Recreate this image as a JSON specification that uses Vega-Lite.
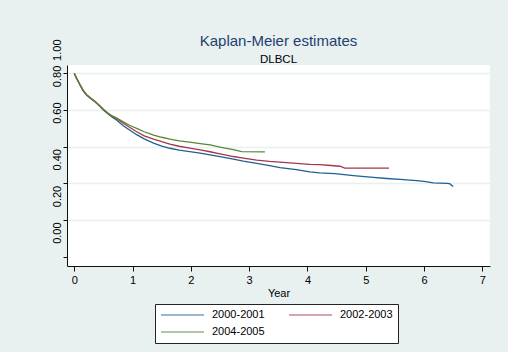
{
  "$schema": "https://vega.github.io/schema/vega-lite/v6.json",
  "width": 423,
  "height": 201,
  "autosize": {"type": "none"},
  "padding": {"left": 67, "top": 65, "right": 18, "bottom": 86},
  "background": "#E8F0F0",
  "title": {
    "text": "Kaplan-Meier estimates",
    "subtitle": "DLBCL",
    "anchor": "middle",
    "frame": "group",
    "font": "Liberation Sans",
    "fontSize": 15,
    "fontWeight": "normal",
    "color": "#1e3f6e",
    "subtitleFont": "Liberation Sans",
    "subtitleFontSize": 11.5,
    "subtitleColor": "black",
    "offset": -27,
    "subtitlePadding": 5.5
  },
  "data": {
    "values": [
      {"t": 0, "s": 0.80, "g": "2000-2001"},
      {"t": 0.04, "s": 0.773, "g": "2000-2001"},
      {"t": 0.10, "s": 0.736, "g": "2000-2001"},
      {"t": 0.155, "s": 0.704, "g": "2000-2001"},
      {"t": 0.21, "s": 0.682, "g": "2000-2001"},
      {"t": 0.28, "s": 0.664, "g": "2000-2001"},
      {"t": 0.355, "s": 0.645, "g": "2000-2001"},
      {"t": 0.43, "s": 0.623, "g": "2000-2001"},
      {"t": 0.50, "s": 0.600, "g": "2000-2001"},
      {"t": 0.57, "s": 0.581, "g": "2000-2001"},
      {"t": 0.64, "s": 0.564, "g": "2000-2001"},
      {"t": 0.73, "s": 0.545, "g": "2000-2001"},
      {"t": 0.84, "s": 0.515, "g": "2000-2001"},
      {"t": 0.955, "s": 0.490, "g": "2000-2001"},
      {"t": 1.07, "s": 0.466, "g": "2000-2001"},
      {"t": 1.2, "s": 0.443, "g": "2000-2001"},
      {"t": 1.36, "s": 0.420, "g": "2000-2001"},
      {"t": 1.5, "s": 0.404, "g": "2000-2001"},
      {"t": 1.64, "s": 0.392, "g": "2000-2001"},
      {"t": 1.8, "s": 0.382, "g": "2000-2001"},
      {"t": 1.98, "s": 0.374, "g": "2000-2001"},
      {"t": 2.16, "s": 0.365, "g": "2000-2001"},
      {"t": 2.33, "s": 0.356, "g": "2000-2001"},
      {"t": 2.5, "s": 0.346, "g": "2000-2001"},
      {"t": 2.73, "s": 0.333, "g": "2000-2001"},
      {"t": 2.9, "s": 0.322, "g": "2000-2001"},
      {"t": 3.13, "s": 0.309, "g": "2000-2001"},
      {"t": 3.35, "s": 0.297, "g": "2000-2001"},
      {"t": 3.53, "s": 0.286, "g": "2000-2001"},
      {"t": 3.81, "s": 0.275, "g": "2000-2001"},
      {"t": 4.04, "s": 0.263, "g": "2000-2001"},
      {"t": 4.21, "s": 0.258, "g": "2000-2001"},
      {"t": 4.47, "s": 0.254, "g": "2000-2001"},
      {"t": 4.79, "s": 0.243, "g": "2000-2001"},
      {"t": 5.13, "s": 0.233, "g": "2000-2001"},
      {"t": 5.36, "s": 0.227, "g": "2000-2001"},
      {"t": 5.59, "s": 0.222, "g": "2000-2001"},
      {"t": 5.87, "s": 0.215, "g": "2000-2001"},
      {"t": 6.0, "s": 0.212, "g": "2000-2001"},
      {"t": 6.16, "s": 0.203, "g": "2000-2001"},
      {"t": 6.39, "s": 0.200, "g": "2000-2001"},
      {"t": 6.44, "s": 0.199, "g": "2000-2001"},
      {"t": 6.50, "s": 0.183, "g": "2000-2001"},

      {"t": 0, "s": 0.80, "g": "2002-2003"},
      {"t": 0.04, "s": 0.773, "g": "2002-2003"},
      {"t": 0.10, "s": 0.737, "g": "2002-2003"},
      {"t": 0.155, "s": 0.706, "g": "2002-2003"},
      {"t": 0.21, "s": 0.684, "g": "2002-2003"},
      {"t": 0.28, "s": 0.666, "g": "2002-2003"},
      {"t": 0.355, "s": 0.648, "g": "2002-2003"},
      {"t": 0.43, "s": 0.627, "g": "2002-2003"},
      {"t": 0.50, "s": 0.605, "g": "2002-2003"},
      {"t": 0.57, "s": 0.586, "g": "2002-2003"},
      {"t": 0.64, "s": 0.568, "g": "2002-2003"},
      {"t": 0.73, "s": 0.553, "g": "2002-2003"},
      {"t": 0.84, "s": 0.528, "g": "2002-2003"},
      {"t": 0.955, "s": 0.505, "g": "2002-2003"},
      {"t": 1.07, "s": 0.482, "g": "2002-2003"},
      {"t": 1.2, "s": 0.460, "g": "2002-2003"},
      {"t": 1.36, "s": 0.442, "g": "2002-2003"},
      {"t": 1.5, "s": 0.428, "g": "2002-2003"},
      {"t": 1.64, "s": 0.415, "g": "2002-2003"},
      {"t": 1.8, "s": 0.403, "g": "2002-2003"},
      {"t": 1.98, "s": 0.393, "g": "2002-2003"},
      {"t": 2.16, "s": 0.383, "g": "2002-2003"},
      {"t": 2.33, "s": 0.373, "g": "2002-2003"},
      {"t": 2.5, "s": 0.362, "g": "2002-2003"},
      {"t": 2.73, "s": 0.347, "g": "2002-2003"},
      {"t": 2.9, "s": 0.338, "g": "2002-2003"},
      {"t": 3.13, "s": 0.327, "g": "2002-2003"},
      {"t": 3.35, "s": 0.320, "g": "2002-2003"},
      {"t": 3.53, "s": 0.316, "g": "2002-2003"},
      {"t": 3.81, "s": 0.310, "g": "2002-2003"},
      {"t": 4.04, "s": 0.304, "g": "2002-2003"},
      {"t": 4.21, "s": 0.303, "g": "2002-2003"},
      {"t": 4.4, "s": 0.298, "g": "2002-2003"},
      {"t": 4.56, "s": 0.294, "g": "2002-2003"},
      {"t": 4.64, "s": 0.284, "g": "2002-2003"},
      {"t": 5.40, "s": 0.284, "g": "2002-2003"},

      {"t": 0, "s": 0.80, "g": "2004-2005"},
      {"t": 0.04, "s": 0.774, "g": "2004-2005"},
      {"t": 0.10, "s": 0.738, "g": "2004-2005"},
      {"t": 0.155, "s": 0.707, "g": "2004-2005"},
      {"t": 0.21, "s": 0.684, "g": "2004-2005"},
      {"t": 0.28, "s": 0.665, "g": "2004-2005"},
      {"t": 0.355, "s": 0.646, "g": "2004-2005"},
      {"t": 0.43, "s": 0.624, "g": "2004-2005"},
      {"t": 0.50, "s": 0.602, "g": "2004-2005"},
      {"t": 0.57, "s": 0.584, "g": "2004-2005"},
      {"t": 0.64, "s": 0.570, "g": "2004-2005"},
      {"t": 0.73, "s": 0.556, "g": "2004-2005"},
      {"t": 0.84, "s": 0.536, "g": "2004-2005"},
      {"t": 0.955, "s": 0.516, "g": "2004-2005"},
      {"t": 1.07, "s": 0.500, "g": "2004-2005"},
      {"t": 1.2, "s": 0.482, "g": "2004-2005"},
      {"t": 1.36, "s": 0.464, "g": "2004-2005"},
      {"t": 1.5, "s": 0.452, "g": "2004-2005"},
      {"t": 1.64, "s": 0.442, "g": "2004-2005"},
      {"t": 1.8, "s": 0.432, "g": "2004-2005"},
      {"t": 1.98, "s": 0.425, "g": "2004-2005"},
      {"t": 2.16, "s": 0.417, "g": "2004-2005"},
      {"t": 2.33, "s": 0.410, "g": "2004-2005"},
      {"t": 2.5, "s": 0.398, "g": "2004-2005"},
      {"t": 2.61, "s": 0.391, "g": "2004-2005"},
      {"t": 2.75, "s": 0.383, "g": "2004-2005"},
      {"t": 2.87, "s": 0.374, "g": "2004-2005"},
      {"t": 3.27, "s": 0.372, "g": "2004-2005"}
    ]
  },
  "mark": {"type": "line", "strokeWidth": 1.3, "clip": true},
  "encoding": {
    "x": {
      "field": "t",
      "type": "quantitative",
      "scale": {"domain": [-0.125, 7.132], "nice": false, "zero": false},
      "axis": {
        "values": [0, 1, 2, 3, 4, 5, 6, 7],
        "format": "d",
        "title": "Year",
        "grid": false,
        "domainColor": "#111111",
        "tickColor": "#111111",
        "tickSize": 5,
        "labelFont": "Liberation Sans",
        "labelFontSize": 11,
        "labelColor": "black",
        "labelPadding": 3,
        "titleFont": "Liberation Sans",
        "titleFontSize": 11,
        "titleFontWeight": "normal",
        "titleColor": "black",
        "titlePadding": 2
      }
    },
    "y": {
      "field": "s",
      "type": "quantitative",
      "scale": {"domain": [-0.25, 0.846], "nice": false, "zero": false},
      "axis": {
        "values": [-0.2, 0, 0.2, 0.4, 0.6, 0.8, 0.845],
        "labelExpr": "datum.value > 0.84 ? '1.00' : (datum.value < -0.1 ? '' : format(datum.value, '.2f'))",
        "title": null,
        "grid": true,
        "gridColor": "#E8F0F0",
        "gridWidth": 1.5,
        "gridOpacity": {"condition": {"test": "datum.value < -0.1 || datum.value > 0.84", "value": 0}, "value": 1},
        "tickOpacity": {"condition": {"test": "datum.value > 0.84", "value": 0}, "value": 1},
        "labelOffset": {
          "condition": [
            {"test": "datum.value > 0.84", "value": -15.5},
            {"test": "datum.value > 0.5", "value": 2.5}
          ],
          "value": 12.5
        },
        "domainColor": "#111111",
        "tickColor": "#111111",
        "tickSize": 4,
        "labelAngle": -90,
        "labelAlign": "center",
        "labelBaseline": "bottom",
        "labelPadding": 1,
        "labelFont": "Liberation Sans",
        "labelFontSize": 11,
        "labelColor": "black"
      }
    },
    "color": {
      "field": "g",
      "type": "nominal",
      "scale": {
        "domain": ["2000-2001", "2002-2003", "2004-2005"],
        "range": ["#1f5f91", "#a03848", "#5a8538"]
      },
      "legend": {
        "orient": "none",
        "legendX": 88,
        "legendY": 239,
        "direction": "horizontal",
        "columns": 2,
        "title": null,
        "symbolType": "stroke",
        "symbolSize": 1849,
        "clipHeight": 12,
        "symbolStrokeWidth": 1.3,
        "symbolOpacity": 0.6,
        "labelFont": "Liberation Sans",
        "labelFontSize": 11,
        "labelColor": "black",
        "labelOffset": 7,
        "strokeColor": "#222222",
        "fillColor": "white",
        "padding": 5,
        "rowPadding": 5,
        "columnPadding": 23
      }
    }
  },
  "config": {
    "view": {"fill": "white", "stroke": null}
  }
}
